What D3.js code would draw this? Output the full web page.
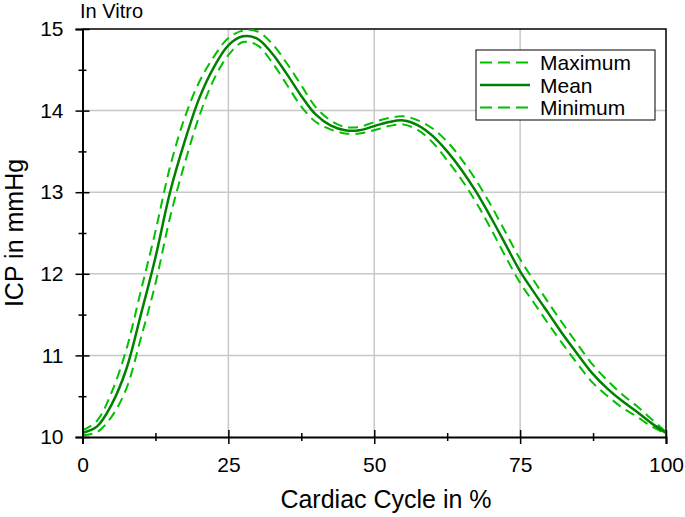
<!DOCTYPE html>
<html>
<head>
<meta charset="utf-8">
<script src="https://cdn.jsdelivr.net/npm/d3@7"></script>
<style>
  body { margin: 0; background: #fff; }
  svg text { font-family: "Liberation Sans", Arial, sans-serif; fill: #000; }
</style>
</head>
<body>
<div class="chart"></div>
<script>
'use strict';

// cardiac cycle positions (%)
const cycle = [0, 2.5, 5, 7.5, 10, 12.5, 15, 17.5, 20, 22.5, 25, 27.5, 30, 32.5, 35, 37.5, 40,
  42.5, 45, 47.5, 50, 52.5, 55, 57.5, 60, 62.5, 65, 67.5, 70, 72.5, 75, 77.5, 80,
  82.5, 85, 87.5, 90, 92.5, 95, 97.5, 100];

// ICP values (mmHg)
const meanIcp = [10.05, 10.13, 10.40, 10.83, 11.50, 12.20, 13.00, 13.62, 14.15, 14.53, 14.80, 14.91, 14.88, 14.70, 14.45, 14.18, 13.95,
  13.82, 13.76, 13.76, 13.81, 13.86, 13.88, 13.82, 13.69, 13.50, 13.27, 13.00, 12.69, 12.36, 12.03, 11.76, 11.50,
  11.24, 11.00, 10.77, 10.59, 10.44, 10.31, 10.17, 10.05];
const maxIcp = [10.08, 10.20, 10.55, 11.07, 11.79, 12.52, 13.31, 13.91, 14.35, 14.66, 14.89, 14.98, 14.97, 14.82, 14.58, 14.31, 14.04,
  13.88, 13.80, 13.80, 13.86, 13.91, 13.93, 13.88, 13.78, 13.62, 13.40, 13.14, 12.84, 12.51, 12.18, 11.90, 11.63,
  11.37, 11.12, 10.88, 10.69, 10.52, 10.38, 10.22, 10.06];
const minIcp = [10.02, 10.06, 10.25, 10.59, 11.21, 11.88, 12.69, 13.35, 13.93, 14.38, 14.68, 14.84, 14.80, 14.59, 14.32, 14.05, 13.86,
  13.77, 13.72, 13.72, 13.76, 13.81, 13.83, 13.76, 13.61, 13.39, 13.15, 12.87, 12.55, 12.21, 11.89, 11.63, 11.37,
  11.12, 10.88, 10.66, 10.50, 10.36, 10.25, 10.13, 10.04];

const xTicks = [0, 25, 50, 75, 100];
const xMinor = [12.5, 37.5, 62.5, 87.5];
const yTicks = [10, 11, 12, 13, 14, 15];
const yMinor = [10.5, 11.5, 12.5, 13.5, 14.5];
const seriesNames = ["Maximum", "Mean", "Minimum"];

const svg = d3.select('.chart').append('svg').attr('width', 685).attr('height', 517);

const xScale = d3.scaleLinear().domain([0, 100]).range([82.5, 666]);
const yScale = d3.scaleLinear().domain([10, 15]).range([437, 29]);

const light = '#00c000';
const dark = '#008200';

// grid
svg.append('g').selectAll('line').data(xTicks.slice(1, -1)).enter().append('line')
  .attr('x1', (d) => xScale(d)).attr('x2', (d) => xScale(d))
  .attr('y1', yScale(10)).attr('y2', yScale(15))
  .attr('stroke', '#c8c8c8').attr('stroke-width', 1.5);
svg.append('g').selectAll('line').data(yTicks.slice(1, -1)).enter().append('line')
  .attr('y1', (d) => yScale(d)).attr('y2', (d) => yScale(d))
  .attr('x1', xScale(0)).attr('x2', xScale(100))
  .attr('stroke', '#c8c8c8').attr('stroke-width', 1.5);

// frame top/right
svg.append('path')
  .attr('d', `M${xScale(0)},${yScale(15)}H${xScale(100)}V${yScale(10)}`)
  .attr('fill', 'none').attr('stroke', '#000').attr('stroke-width', 1.5);

// curves
let line = d3.line()
  .x((d, i) => xScale(cycle[i]))
  .y((d) => yScale(d))
  .curve(d3.curveCatmullRom);

svg.append('path').attr('d', line(maxIcp))
  .attr('fill', 'none').attr('stroke', light).attr('stroke-width', 2).attr('stroke-dasharray', '10,6');
svg.append('path').attr('d', line(minIcp))
  .attr('fill', 'none').attr('stroke', light).attr('stroke-width', 2).attr('stroke-dasharray', '10,6');
svg.append('path').attr('d', line(meanIcp))
  .attr('fill', 'none').attr('stroke', dark).attr('stroke-width', 2.5);

// axes
let xAxis = d3.axisBottom(xScale).tickValues(xTicks).tickSize(7).tickPadding(9).tickFormat(d3.format('d'));
let gx = svg.append('g').attr('transform', `translate(0, ${yScale(10)})`).call(xAxis);
gx.select('.domain').attr('stroke-width', 2);
gx.selectAll('.tick line').attr('y1', -7).attr('stroke-width', 1.5);
gx.selectAll('.tick text').style('font-size', '21px').attr('dy', '0.9em');

let xAxisMinor = d3.axisBottom(xScale).tickValues(xMinor).tickSize(4).tickFormat('');
let gxm = svg.append('g').attr('transform', `translate(0, ${yScale(10)})`).call(xAxisMinor);
gxm.select('.domain').remove();
gxm.selectAll('.tick line').attr('y1', -4).attr('stroke-width', 1.5);

let yAxis = d3.axisLeft(yScale).tickValues(yTicks).tickSize(7).tickPadding(12).tickFormat(d3.format('d'));
let gy = svg.append('g').attr('transform', `translate(${xScale(0)}, 0)`).call(yAxis);
gy.select('.domain').attr('stroke-width', 2);
gy.selectAll('.tick line').attr('x1', 7).attr('stroke-width', 1.5);
gy.selectAll('.tick text').style('font-size', '21px');

let yAxisMinor = d3.axisLeft(yScale).tickValues(yMinor).tickSize(4).tickFormat('');
let gym = svg.append('g').attr('transform', `translate(${xScale(0)}, 0)`).call(yAxisMinor);
gym.select('.domain').remove();
gym.selectAll('.tick line').attr('x1', 4).attr('stroke-width', 1.5);

svg.selectAll('.domain, .tick line').attr('stroke', '#000');

// labels
svg.append('text').attr('x', 80).attr('y', 18).style('font-size', '20px').text('In Vitro');
svg.append('text').attr('x', 386).attr('y', 508).attr('text-anchor', 'middle')
  .style('font-size', '25px').text('Cardiac Cycle in %');
svg.append('text').attr('transform', 'translate(23, 233)rotate(-90)').attr('text-anchor', 'middle')
  .style('font-size', '25px').text('ICP in mmHg');

// legend
let legend = svg.append('g').attr('transform', 'translate(476, 50)');
legend.append('rect').attr('width', 179).attr('height', 70)
  .attr('fill', '#fff').attr('stroke', '#000').attr('stroke-width', 1);
seriesNames.forEach((name, i) => {
  let yy = 12.5 + i * 22.5;
  legend.append('line').attr('x1', 4).attr('x2', 54).attr('y1', yy).attr('y2', yy)
    .attr('stroke', name === 'Mean' ? dark : light)
    .attr('stroke-width', name === 'Mean' ? 2.5 : 2)
    .attr('stroke-dasharray', name === 'Mean' ? null : '12,6');
  legend.append('text').attr('x', 64).attr('y', yy).attr('dy', '0.36em')
    .style('font-size', '21px').text(name);
});
</script>
</body>
</html>
